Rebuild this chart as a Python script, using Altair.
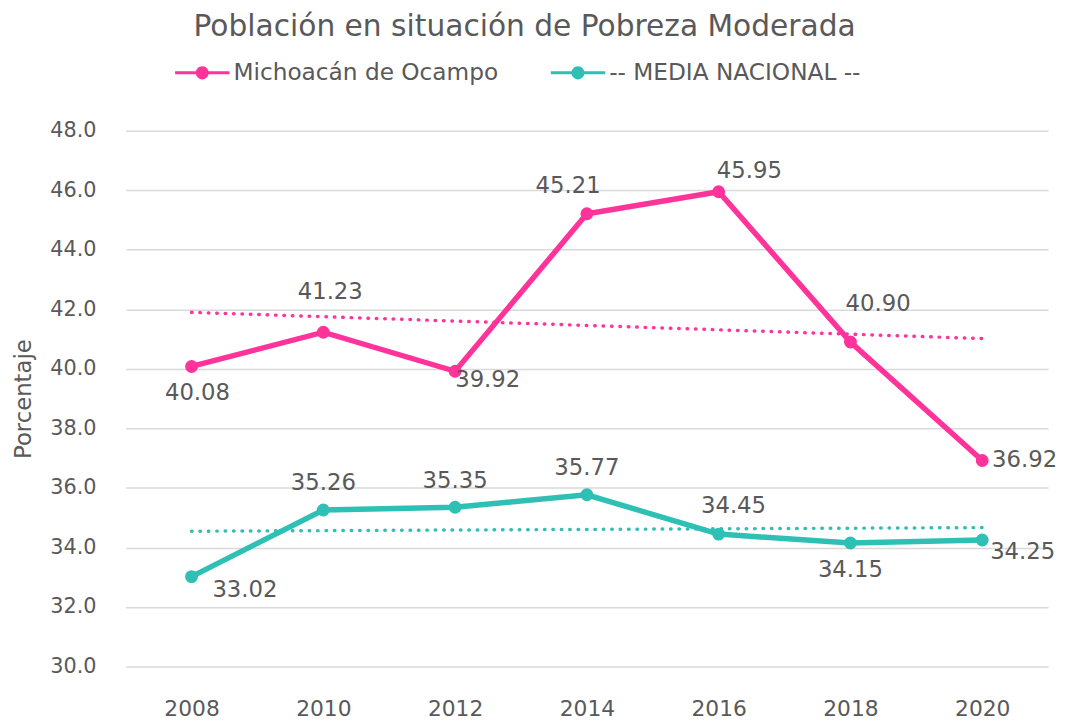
import altair as alt
import pandas as pd

years = [2008, 2010, 2012, 2014, 2016, 2018, 2020]
michoacan = [40.08, 41.23, 39.92, 45.21, 45.95, 40.90, 36.92]
nacional = [33.02, 35.26, 35.35, 35.77, 34.45, 34.15, 34.25]
series = ["Michoacán de Ocampo", "-- MEDIA NACIONAL --"]
colors = ["#FF3399", "#2EBFB5"]
y_ticks = [30, 32, 34, 36, 38, 40, 42, 44, 46, 48]

rows = []
for s, vals in zip(series, [michoacan, nacional]):
    for yr, v in zip(years, vals):
        rows.append({"year": yr, "valor": v, "serie": s, "label": f"{v:.2f}"})
df = pd.DataFrame(rows)

FONT = "DejaVu Sans"
GRAY = "#595959"

# label placement (pixel offsets), kept separate from the data
offsets = {
    (series[0], 2008): (6, 27, "center"),
    (series[0], 2010): (7, -41, "center"),
    (series[0], 2012): (33, 9, "center"),
    (series[0], 2014): (-19, -28, "center"),
    (series[0], 2016): (31, -21, "center"),
    (series[0], 2018): (28, -38, "center"),
    (series[0], 2020): (10, 0, "left"),
    (series[1], 2008): (54, 14, "center"),
    (series[1], 2010): (0, -27, "center"),
    (series[1], 2012): (0, -27, "center"),
    (series[1], 2014): (0, -27, "center"),
    (series[1], 2016): (15, -28, "center"),
    (series[1], 2018): (0, 27, "center"),
    (series[1], 2020): (8, 12, "left"),
}

color_scale = alt.Scale(domain=series, range=colors)
color_plain = alt.Color("serie:N", scale=color_scale, sort=series)

x_enc = alt.X(
    "year:Q",
    scale=alt.Scale(domain=[2007, 2021], nice=False, zero=False),
    axis=alt.Axis(values=years, format="d", grid=False, domain=False, ticks=False,
                  labelPadding=33, labelFontSize=22, labelColor=GRAY, labelFont=FONT,
                  title=None),
)
y_enc = alt.Y(
    "valor:Q",
    scale=alt.Scale(domain=[30, 48], nice=False, zero=False),
    axis=alt.Axis(values=y_ticks, format=".1f", domain=False, ticks=False,
                  gridColor="#D9D9D9", gridWidth=1.5, labelPadding=30,
                  labelFontSize=21, labelColor=GRAY, labelFont=FONT,
                  title="Porcentaje", titleFontSize=23, titleFontWeight="normal",
                  titleColor=GRAY, titleFont=FONT, titlePadding=14),
)

legend_symbol = ("M-1,-0.055H1V0.055H-1Z "
                 "M-0.24,0A0.24,0.24 0 1,1 0.24,0A0.24,0.24 0 1,1 -0.24,0Z")

base = alt.Chart(df)

lines = base.mark_line(strokeWidth=5.5).encode(
    x=x_enc, y=y_enc,
    color=alt.Color("serie:N", scale=color_scale, sort=series,
                    legend=alt.Legend(title=None, orient="none", direction="horizontal",
                                      legendX=50, legendY=-86, symbolType=legend_symbol,
                                      symbolSize=3025, symbolStrokeWidth=0,
                                      symbolOpacity=1, labelFontSize=23.5, labelColor=GRAY,
                                      labelFont=FONT, labelLimit=400, labelOffset=4,
                                      columnPadding=53)),
)

points = base.mark_circle(size=170, opacity=1).encode(
    x="year:Q", y="valor:Q", color=color_plain,
)

trend = base.transform_regression(
    "year", "valor", groupby=["serie"], extent=[2008, 2020]
).mark_line(strokeWidth=3.5, strokeDash=[0.5, 8], strokeCap="round").encode(
    x="year:Q", y="valor:Q", color=color_plain,
)

text_layers = []
for (s, yr), (dx, dy, al) in offsets.items():
    t = base.transform_filter(
        (alt.datum.serie == s) & (alt.datum.year == yr)
    ).mark_text(dx=dx, dy=dy, align=al, baseline="middle", fontSize=23,
                font=FONT, color=GRAY).encode(x="year:Q", y="valor:Q", text="label:N")
    text_layers.append(t)

chart = alt.layer(lines, trend, points, *text_layers).properties(
    width=933, height=542,
    title=alt.TitleParams("Población en situación de Pobreza Moderada", fontSize=30,
                          font=FONT, color=GRAY, fontWeight="normal", anchor="middle",
                          dx=-63, offset=4),
    padding={"left": 5, "top": 0, "right": 0, "bottom": 0},
).configure_view(stroke=None)

chart.save("out.html", embed_options={"renderer": "svg", "actions": False})
